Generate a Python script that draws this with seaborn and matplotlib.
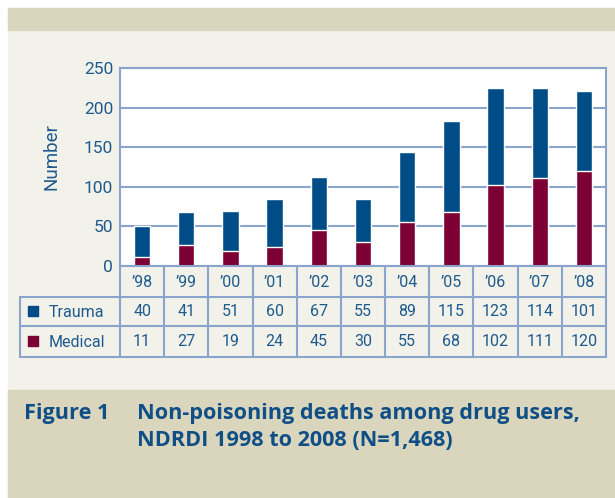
import numpy as np
import pandas as pd
import seaborn as sns
import matplotlib.pyplot as plt
from matplotlib.patches import Rectangle
from matplotlib.lines import Line2D

years = ["’98", "’99", "’00", "’01", "’02", "’03", "’04", "’05", "’06", "’07", "’08"]
trauma = [40, 41, 51, 60, 67, 55, 89, 115, 123, 114, 101]
medical = [11, 27, 19, 24, 45, 30, 55, 68, 102, 111, 120]
series = ["Trauma", "Medical"]

BLUE = "#004c87"
RED = "#7c0034"
LINE = "#8ba4cb"
TXT = "#1d5a8e"
CREAM = "#f3f2ea"
BAND = "#dad5bd"

df = pd.DataFrame({"year": years, "Trauma": trauma, "Medical": medical})
df["total"] = df["Trauma"] + df["Medical"]

sns.set_style("white")
plt.rcParams["font.family"] = ["Roboto", "DejaVu Sans"]

W, H = 615, 498
fig = plt.figure(figsize=(W / 100, H / 100), dpi=100)
fig.patch.set_facecolor("white")


def px(x0, y0, x1, y1):
    # pixel box (top-left origin) -> figure fraction rect
    return [x0 / W, 1 - y1 / H, (x1 - x0) / W, (y1 - y0) / H]


# background panels
fig.patches.append(Rectangle((8 / W, 0), 1, 1 - 8 / H, transform=fig.transFigure, color=CREAM, zorder=-3))
fig.patches.append(Rectangle((8 / W, 1 - 30 / H), 1, 22 / H, transform=fig.transFigure, color=BAND, zorder=-2))
fig.patches.append(Rectangle((8 / W, 0), 1, 1 - 390 / H, transform=fig.transFigure, color=BAND, zorder=-2))

# bar chart
ax = fig.add_axes(px(120, 68, 606, 266))
ax.set_facecolor("white")
sns.barplot(data=df, x="year", y="total", color=BLUE, width=0.37, saturation=1, ax=ax)
sns.barplot(data=df, x="year", y="Medical", color=RED, width=0.37, saturation=1, ax=ax)
ax.set_xlim(-0.5, len(years) - 0.5)
ax.set_ylim(0, 250)
ax.set_yticks(np.arange(0, 251, 50))
ax.yaxis.grid(True, color=LINE, lw=1.5)
ax.set_axisbelow(True)
ax.set_xticks([])
ax.set_xlabel("")
ax.set_ylabel("Number", color=TXT, fontsize=13.5)
ax.yaxis.set_label_coords((60 - 120) / 486, (266 - 157) / 198)
ax.tick_params(axis="y", colors=LINE, labelcolor=TXT, labelsize=12.5, length=3, width=1.2, pad=2)
for s in ax.spines.values():
    s.set_color(LINE)
    s.set_linewidth(1.5)

# data table underneath
tx0, tx1 = 20, 606
ty = [266, 297, 326, 357]
tax = fig.add_axes(px(tx0, ty[0], tx1, ty[-1]))
tax.set_facecolor("none")
tax.axis("off")
unit = 486 / len(years)
left = -0.5 - (120 - tx0) / unit
tax.set_xlim(left, len(years) - 0.5)
tax.set_ylim(ty[-1], ty[0])
kw = dict(color=LINE, lw=1.5, clip_on=False)
tax.add_line(Line2D([-0.5, -0.5], [ty[0], ty[-1]], **kw))
tax.add_line(Line2D([len(years) - 0.5] * 2, [ty[0], ty[-1]], **kw))
tax.add_line(Line2D([left, left], [ty[1], ty[-1]], **kw))
for i in range(len(years) - 1):
    tax.add_line(Line2D([i + 0.5, i + 0.5], [ty[0], ty[-1]], **kw))
for y in ty[1:]:
    tax.add_line(Line2D([left, len(years) - 0.5], [y, y], **kw))

mid = [(ty[k] + ty[k + 1]) / 2 for k in range(3)]
for i, yr in enumerate(years):
    tax.text(i, mid[0] + 1, yr, ha="center", va="center", color=TXT, fontsize=11.5)
    tax.text(i, mid[1], str(trauma[i]), ha="center", va="center", color=TXT, fontsize=11.5)
    tax.text(i, mid[2], str(medical[i]), ha="center", va="center", color=TXT, fontsize=11.5)
for k, (name, col) in enumerate(zip(series, [BLUE, RED])):
    tax.scatter([left + 13 / unit], [mid[k + 1] - 1], marker="s", s=60, color=col, clip_on=False)
    tax.text(left + 29 / unit, mid[k + 1] + 1, name, ha="left", va="center", color=TXT, fontsize=11.5)

# caption
cap = dict(color="#0f4f86", fontsize=15.6, fontweight="bold", family=["Open Sans", "DejaVu Sans"], va="center")
fig.text(24 / W, 1 - 413 / H, "Figure 1", **cap)
fig.text(137 / W, 1 - 413 / H, "Non-poisoning deaths among drug users,", **cap)
fig.text(137 / W, 1 - 440 / H, "NDRDI 1998 to 2008 (N=1,468)", **cap)

fig.savefig("out.png", dpi=100)
